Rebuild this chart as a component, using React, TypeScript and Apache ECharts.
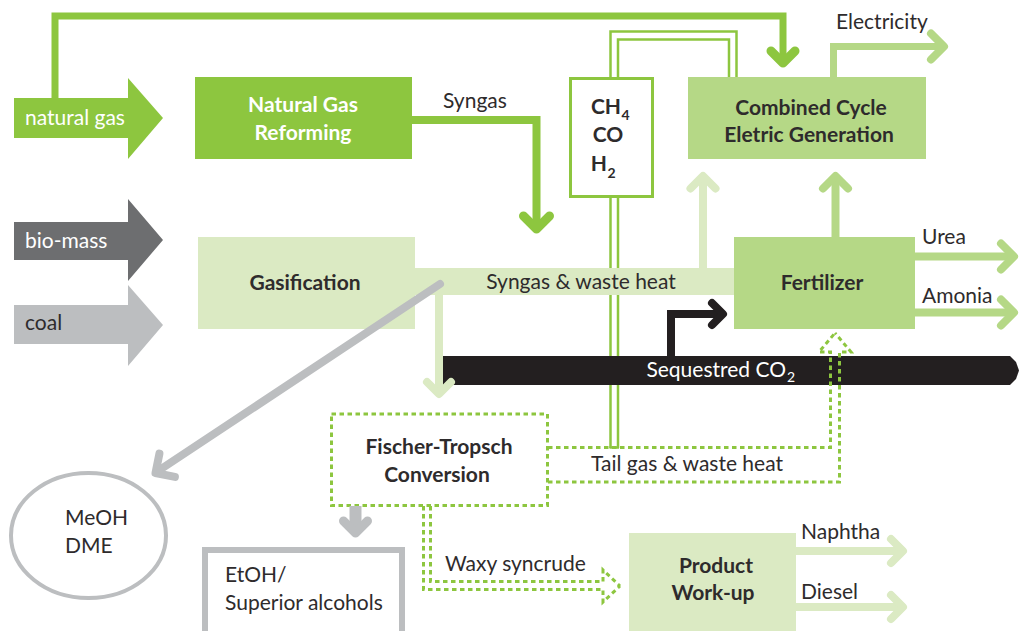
import { useEffect, useRef } from "react";
import * as echarts from "echarts";

// ---- content (labels) ----
const sourceNames = ["natural gas", "bio-mass", "coal"];
const processNames = [
  ["Natural Gas", "Reforming"],
  ["Combined Cycle", "Eletric Generation"],
  ["Gasification"],
  ["Fertilizer"],
  ["Fischer-Tropsch", "Conversion"],
  ["Product", "Work-up"],
];
const productNames = ["Electricity", "Urea", "Amonia", "Naphtha", "Diesel"];
const sideProducts = [["MeOH", "DME"], ["EtOH/", "Superior alcohols"]];
const streamNames = ["Syngas", "Syngas & waste heat", "Sequestred CO", "Tail gas & waste heat", "Waxy syncrude"];
const gasSpecies = [["CH", "4"], ["CO", ""], ["H", "2"]];
const co2Sub = "2";

// ---- styles ----
const G1 = "#8dc63f";
const G2 = "#b5d886";
const G3 = "#dbeac3";
const DG = "#6d6e70";
const LG = "#bcbec0";
const BK = "#231f20";
const TX = "#2e2b2c";
const FONT = "Lato, 'Open Sans', sans-serif";
const FS = 21;
const TY = -1.5; // baseline correction

type P = [number, number];

function buildGraphics() {
  const els: any[] = [];
  const poly = (pts: P[], stroke: string, w: number, o: any = {}) =>
    els.push({
      type: "polyline",
      silent: true,
      shape: { points: pts },
      style: {
        stroke,
        lineWidth: w,
        fill: "none",
        lineCap: o.cap || "butt",
        lineJoin: o.join || "miter",
        lineDash: o.dash || null,
      },
    });
  const chev = (tip: P, dir: P, s: number, stroke: string, w: number) => {
    const l = Math.hypot(dir[0], dir[1]);
    const dx = dir[0] / l, dy = dir[1] / l;
    const px = -dy, py = dx;
    poly(
      [
        [tip[0] - s * dx + s * px, tip[1] - s * dy + s * py],
        tip,
        [tip[0] - s * dx - s * px, tip[1] - s * dy - s * py],
      ],
      stroke,
      w,
      { cap: "round", join: "round" }
    );
  };
  const rect = (x: number, y: number, w: number, h: number, fill: string, stroke?: string, lw?: number, dash?: number[]) =>
    els.push({
      type: "rect",
      silent: true,
      shape: { x, y, width: w, height: h },
      style: { fill, stroke: stroke || null, lineWidth: lw || 0, lineDash: dash || null },
    });
  const polygon = (pts: P[], fill: string) =>
    els.push({ type: "polygon", silent: true, shape: { points: pts }, style: { fill } });
  const txt = (t: string, x: number, y: number, o: any = {}) =>
    els.push({
      type: "text",
      silent: true,
      style: {
        text: t,
        x,
        y: y + TY,
        fill: o.fill || TX,
        fontSize: o.size || FS,
        fontWeight: o.bold ? "bold" : "normal",
        fontFamily: FONT,
        textAlign: o.align || "left",
        textVerticalAlign: "middle",
      },
    });
  const dash = [4.5, 3.5];

  // ---- source arrows ----
  polygon([[14, 98], [128, 98], [128, 78], [163, 118], [128, 159], [128, 138], [14, 138]], G1);
  polygon([[14, 222], [128, 222], [128, 199], [163, 240], [128, 281], [128, 260], [14, 260]], DG);
  polygon([[14, 305], [128, 305], [128, 285], [163, 325], [128, 366], [128, 344], [14, 344]], LG);

  // ---- natural gas bypass to combined cycle ----
  poly([[55, 98], [55, 16], [783, 16], [783, 58]], G1, 7);
  chev([783, 63], [0, 1], 12, G1, 9);

  // ---- reforming syngas ----
  poly([[412, 120], [536.5, 120], [536.5, 224]], G1, 8);
  chev([536.5, 229], [0, 1], 13, G1, 9);

  // ---- CH4/CO/H2 pipes ----
  poly([[610.5, 77], [610.5, 31.5], [736.5, 31.5], [736.5, 77]], G1, 2.5);
  poly([[618, 77], [618, 39.5], [729, 39.5], [729, 77]], G1, 2.5);
  poly([[610.5, 197], [610.5, 448]], G1, 2.5);
  poly([[618, 197], [618, 448]], G1, 2.5);
  poly([[609.5, 447.5], [619, 447.5]], G1, 2.5);

  // ---- electricity ----
  poly([[833.5, 77], [833.5, 46.5], [940, 46.5]], G2, 7);
  chev([944, 46.5], [1, 0], 13, G2, 8);

  // ---- gasification + syngas band ----
  rect(198, 237, 217, 92, G3);
  rect(415, 268, 320, 27, G3);

  // up arrows into combined cycle
  poly([[703, 268], [703, 180]], G3, 8);
  chev([703, 176], [0, -1], 12.5, G3, 8);
  poly([[835.5, 237], [835.5, 180]], G2, 8);
  chev([835.5, 176], [0, -1], 12.5, G2, 8);

  // ---- fertilizer outputs ----
  poly([[915, 256.5], [1010, 256.5]], G2, 8);
  chev([1014, 256.5], [1, 0], 13, G2, 8);
  poly([[915, 312.5], [1010, 312.5]], G2, 8);
  chev([1014, 312.5], [1, 0], 13, G2, 8);

  // ---- sequestered CO2 ----
  polygon([[443, 356], [1010, 356], [1016, 362], [1019, 370.5], [1016, 379], [1010, 385], [443, 385]], BK);
  poly([[671, 356], [671, 314], [720, 314]], BK, 8);
  chev([723, 314], [1, 0], 11, BK, 8);

  // ---- syngas down to FT ----
  poly([[439, 295], [439, 392]], G3, 8);
  chev([439, 394], [0, 1], 12, G3, 8);

  // ---- grey diagonal to MeOH ----
  poly([[440, 284], [158, 471]], LG, 8, { cap: "round" });
  chev([155.5, 473], [-282, 187], 14, LG, 8);

  // ---- MeOH / DME ellipse ----
  els.push({
    type: "ellipse",
    silent: true,
    shape: { cx: 88.5, cy: 535.5, rx: 77.5, ry: 62.5 },
    style: { fill: "#fff", stroke: LG, lineWidth: 4 },
  });

  // ---- FT box ----
  rect(331.5, 414, 216, 91.5, "#fff", G1, 3, dash);

  // grey down arrow to EtOH
  poly([[355.5, 506], [355.5, 528]], LG, 12);
  chev([355.5, 533], [0, 1], 12, LG, 9);

  // EtOH box
  rect(205, 550, 197, 120, "#fff", LG, 6);

  // ---- tail gas dashed hollow arrow ----
  poly([[548, 447.5], [830.5, 447.5], [830.5, 352], [819, 352], [835, 333]], G1, 3, { dash });
  poly([[548, 482], [839.5, 482], [839.5, 352], [851, 352], [835, 333]], G1, 3, { dash });

  // ---- waxy syncrude dashed hollow arrow ----
  poly([[430.5, 506], [430.5, 581.5], [603, 581.5], [603, 570], [620, 586]], G1, 3, { dash });
  poly([[423.5, 506], [423.5, 589.5], [603, 589.5], [603, 602], [620, 586]], G1, 3, { dash });

  // ---- process boxes ----
  rect(195, 77, 217, 82, G1);
  rect(570.5, 78.5, 82, 118, "#fff", G1, 3);
  rect(688, 77, 238, 82, G2);
  rect(734, 237, 181, 92, G2);
  rect(629, 533, 167, 110, G3);

  // product outputs
  poly([[796, 551], [899, 551]], G3, 8);
  chev([903, 551], [1, 0], 12, G3, 8);
  poly([[796, 607], [899, 607]], G3, 8);
  chev([903, 607], [1, 0], 12, G3, 8);

  // ---- texts ----
  txt(sourceNames[0], 25, 118, { fill: "#fff" });
  txt(sourceNames[1], 25, 241, { fill: "#fff" });
  txt(sourceNames[2], 25, 323);

  txt(processNames[0][0], 303, 105, { fill: "#fff", bold: true, align: "center" });
  txt(processNames[0][1], 303, 133, { fill: "#fff", bold: true, align: "center" });
  txt(processNames[1][0], 811, 108, { bold: true, align: "center" });
  txt(processNames[1][1], 809, 135, { bold: true, align: "center" });
  txt(processNames[2][0], 305, 283, { bold: true, align: "center" });
  txt(processNames[3][0], 822, 283, { bold: true, align: "center" });
  txt(processNames[4][0], 439, 447, { bold: true, align: "center" });
  txt(processNames[4][1], 437, 475, { bold: true, align: "center" });
  txt(processNames[5][0], 716, 566, { bold: true, align: "center" });
  txt(processNames[5][1], 713, 593, { bold: true, align: "center" });

  // gas species
  txt(gasSpecies[0][0], 621, 107, { bold: true, align: "right" });
  txt(gasSpecies[0][1], 621.5, 116, { bold: true, size: 14 });
  txt(gasSpecies[1][0], 608, 135, { bold: true, align: "center" });
  txt(gasSpecies[2][0], 607, 164, { bold: true, align: "right" });
  txt(gasSpecies[2][1], 607.5, 174, { bold: true, size: 14 });

  txt(productNames[0], 836, 22);
  txt(productNames[1], 922, 237);
  txt(productNames[2], 922, 296);
  txt(productNames[3], 801, 532);
  txt(productNames[4], 801, 592);

  txt(sideProducts[0][0], 65, 518);
  txt(sideProducts[0][1], 65, 546);
  txt(sideProducts[1][0], 225, 575);
  txt(sideProducts[1][1], 225, 603);

  txt(streamNames[0], 443, 101);
  txt(streamNames[1], 581, 282, { align: "center" });
  txt(streamNames[2], 786, 370, { fill: "#fff", align: "right" });
  txt(co2Sub, 787, 378, { fill: "#fff", size: 14 });
  txt(streamNames[3], 687, 464, { align: "center" });
  txt(streamNames[4], 445, 564);

  return els;
}

export default function App() {
  const ref = useRef<HTMLDivElement>(null);
  useEffect(() => {
    if (!ref.current) return;
    const chart = echarts.init(ref.current, undefined, { renderer: "svg" });
    chart.setOption({
      animation: false,
      backgroundColor: "#ffffff",
      graphic: { elements: buildGraphics() },
    });
    return () => chart.dispose();
  }, []);
  return (
    <div
      ref={ref}
      style={{ position: "fixed", left: 0, top: 0, width: 1019, height: 631, background: "#fff" }}
    />
  );
}
